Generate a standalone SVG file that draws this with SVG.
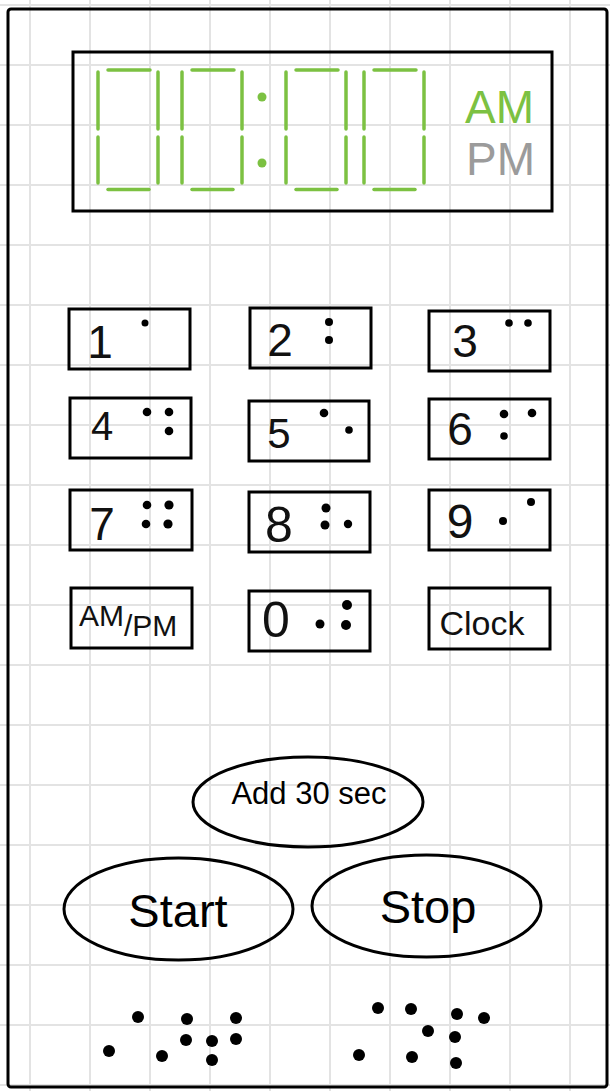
<svg xmlns="http://www.w3.org/2000/svg" width="610" height="1091" viewBox="0 0 610 1091">
<style>
.grid line{stroke:#e3e3e3;stroke-width:2}
.box{fill:none;stroke:#000;stroke-width:3}
.seg{stroke:#7cc142;stroke-width:3.5;stroke-linecap:round;fill:none}
.hw{font-family:"Liberation Sans",Arial,sans-serif;fill:#111;text-anchor:middle}
.dot{fill:#000}
.lbl{font-family:"Liberation Sans",Arial,sans-serif;fill:#000;text-anchor:middle}
</style>
<defs>
<g id="digit">
<line x1="0" y1="72" x2="0" y2="129"/>
<line x1="0" y1="137" x2="0" y2="183"/>
<line x1="60" y1="72" x2="60" y2="129"/>
<line x1="60" y1="137" x2="60" y2="183"/>
<line x1="10" y1="70" x2="52" y2="70"/>
<line x1="10" y1="189.5" x2="51" y2="189.5"/>
</g>
</defs>
<rect width="610" height="1091" fill="#fff"/>
<g class="grid">
<line x1="0" y1="5" x2="610" y2="5"/><line x1="0" y1="65" x2="610" y2="65"/><line x1="0" y1="125" x2="610" y2="125"/><line x1="0" y1="185" x2="610" y2="185"/><line x1="0" y1="245" x2="610" y2="245"/><line x1="0" y1="305" x2="610" y2="305"/><line x1="0" y1="365" x2="610" y2="365"/><line x1="0" y1="425" x2="610" y2="425"/><line x1="0" y1="485" x2="610" y2="485"/><line x1="0" y1="545" x2="610" y2="545"/><line x1="0" y1="605" x2="610" y2="605"/><line x1="0" y1="665" x2="610" y2="665"/><line x1="0" y1="725" x2="610" y2="725"/><line x1="0" y1="785" x2="610" y2="785"/><line x1="0" y1="845" x2="610" y2="845"/><line x1="0" y1="905" x2="610" y2="905"/><line x1="0" y1="965" x2="610" y2="965"/><line x1="0" y1="1025" x2="610" y2="1025"/><line x1="0" y1="1085" x2="610" y2="1085"/>
<line x1="30" y1="0" x2="30" y2="1091"/><line x1="90" y1="0" x2="90" y2="1091"/><line x1="150" y1="0" x2="150" y2="1091"/><line x1="210" y1="0" x2="210" y2="1091"/><line x1="270" y1="0" x2="270" y2="1091"/><line x1="330" y1="0" x2="330" y2="1091"/><line x1="390" y1="0" x2="390" y2="1091"/><line x1="450" y1="0" x2="450" y2="1091"/><line x1="510" y1="0" x2="510" y2="1091"/><line x1="570" y1="0" x2="570" y2="1091"/>
</g>
<g id="frame"><rect class="box" x="8" y="9" width="599" height="1078" rx="3"/></g>
<g id="display">
<rect class="box" x="73" y="52" width="479" height="159"/>
<g class="seg">
<use href="#digit" x="98"/>
<use href="#digit" x="182"/>
<use href="#digit" x="286"/>
<use href="#digit" x="364"/>
</g>
<circle cx="262" cy="97" r="4.5" fill="#7cc142"/>
<circle cx="262" cy="163" r="4.5" fill="#7cc142"/>
<text x="534" y="123" font-family="Liberation Sans,Arial,sans-serif" font-size="46" fill="#7cc142" text-anchor="end">AM</text>
<text x="535" y="175" font-family="Liberation Sans,Arial,sans-serif" font-size="46" fill="#9b9b9b" text-anchor="end">PM</text>
</g>
<g id="key1"><rect class="box" x="69" y="309" width="121" height="60"/><text class="hw" x="100" y="358" font-size="46">1</text><circle class="dot" cx="145" cy="323" r="3.5"/></g>
<g id="key2"><rect class="box" x="250" y="308" width="121" height="60"/><text class="hw" x="280" y="356" font-size="46">2</text><circle class="dot" cx="329" cy="322" r="4"/><circle class="dot" cx="329" cy="340" r="4"/></g>
<g id="key3"><rect class="box" x="429" y="311" width="121" height="60"/><text class="hw" x="465" y="357" font-size="46">3</text><circle class="dot" cx="509" cy="323" r="3.8"/><circle class="dot" cx="528" cy="323" r="3.8"/></g>
<g id="key4"><rect class="box" x="70" y="398" width="121" height="60"/><text class="hw" x="102" y="440" font-size="40">4</text><circle class="dot" cx="147" cy="412" r="4.3"/><circle class="dot" cx="169" cy="412" r="4.3"/><circle class="dot" cx="169" cy="431" r="4.3"/></g>
<g id="key5"><rect class="box" x="249" y="401" width="120" height="60"/><text class="hw" x="279" y="448" font-size="42">5</text><circle class="dot" cx="324" cy="413" r="4.3"/><circle class="dot" cx="349" cy="430" r="3.8"/></g>
<g id="key6"><rect class="box" x="429" y="399" width="121" height="60"/><text class="hw" x="460" y="445" font-size="46">6</text><circle class="dot" cx="504" cy="414" r="4.3"/><circle class="dot" cx="532" cy="413" r="4.3"/><circle class="dot" cx="504" cy="436" r="3.8"/></g>
<g id="key7"><rect class="box" x="70" y="490" width="122" height="60"/><text class="hw" x="102" y="540" font-size="46">7</text><circle class="dot" cx="147" cy="505" r="4.3"/><circle class="dot" cx="169" cy="505" r="4.6"/><circle class="dot" cx="146" cy="524" r="4.3"/><circle class="dot" cx="168" cy="524" r="4.6"/></g>
<g id="key8"><rect class="box" x="249" y="492" width="121" height="60"/><text class="hw" x="279" y="542" font-size="50">8</text><circle class="dot" cx="326" cy="508" r="4.5"/><circle class="dot" cx="325" cy="525" r="4.5"/><circle class="dot" cx="348" cy="524" r="4.2"/></g>
<g id="key9"><rect class="box" x="429" y="490" width="121" height="60"/><text class="hw" x="460" y="538" font-size="48">9</text><circle class="dot" cx="531" cy="502" r="4"/><circle class="dot" cx="503" cy="521" r="4"/></g>
<g id="keyAmPm"><rect class="box" x="71" y="588" width="121" height="60"/><text class="hw" x="79" y="626" font-size="30" style="text-anchor:start">AM<tspan dy="10">/PM</tspan></text></g>
<g id="key0"><rect class="box" x="249" y="591" width="121" height="60"/><text class="hw" x="276" y="637" font-size="50">0</text><circle class="dot" cx="347" cy="605" r="5"/><circle class="dot" cx="346" cy="625" r="5"/><circle class="dot" cx="320" cy="624" r="4.5"/></g>
<g id="keyClock"><rect class="box" x="429" y="588" width="121" height="61"/><text class="hw" x="482" y="635" font-size="34">Clock</text></g>
<g id="add30"><ellipse class="box" cx="308" cy="802" rx="115" ry="45"/><text class="lbl" x="309" y="804" font-size="31">Add 30 sec</text></g>
<g id="start"><ellipse class="box" cx="178.5" cy="909" rx="114.5" ry="51"/><text class="lbl" x="178" y="927" font-size="47">Start</text></g>
<g id="stop"><ellipse class="box" cx="426.5" cy="906" rx="114.5" ry="51"/><text class="lbl" x="428" y="923" font-size="47">Stop</text></g>
<g id="brailleStart">
<circle class="dot" cx="138" cy="1017" r="6"/><circle class="dot" cx="109" cy="1051" r="6"/><circle class="dot" cx="162" cy="1056" r="6"/><circle class="dot" cx="187" cy="1019" r="6"/><circle class="dot" cx="186" cy="1040" r="6"/><circle class="dot" cx="212" cy="1041" r="6"/><circle class="dot" cx="212" cy="1060" r="6"/><circle class="dot" cx="236" cy="1018" r="6"/><circle class="dot" cx="236" cy="1039" r="6"/>
</g>
<g id="brailleStop">
<circle class="dot" cx="378" cy="1008" r="6"/><circle class="dot" cx="411" cy="1009" r="6"/><circle class="dot" cx="457" cy="1014" r="6"/><circle class="dot" cx="484" cy="1018" r="6"/><circle class="dot" cx="428" cy="1031" r="6"/><circle class="dot" cx="455" cy="1037" r="6"/><circle class="dot" cx="359" cy="1055" r="6"/><circle class="dot" cx="412" cy="1057" r="6"/><circle class="dot" cx="456" cy="1063" r="6"/>
</g>
</svg>
